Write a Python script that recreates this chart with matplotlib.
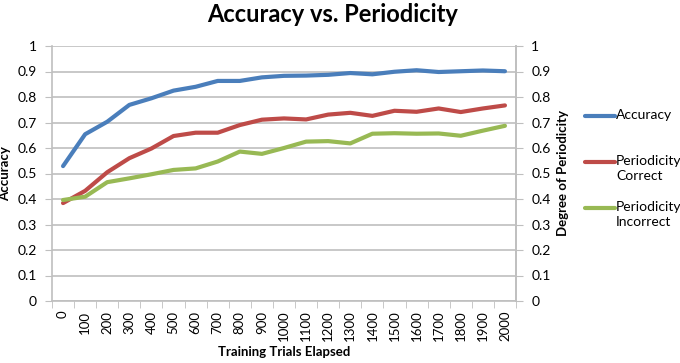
import matplotlib
matplotlib.use("Agg")
import matplotlib.pyplot as plt
from matplotlib.lines import Line2D
from matplotlib.ticker import FuncFormatter, FixedLocator

plt.rcParams['font.family'] = ['Lato', 'DejaVu Sans']

trials = [0, 100, 200, 300, 400, 500, 600, 700, 800, 900, 1000,
          1100, 1200, 1300, 1400, 1500, 1600, 1700, 1800, 1900, 2000]
accuracy = [0.529, 0.654, 0.703, 0.769, 0.795, 0.825, 0.840, 0.863, 0.863, 0.877, 0.883,
            0.884, 0.887, 0.894, 0.889, 0.899, 0.905, 0.898, 0.901, 0.904, 0.901]
period_correct = [0.384, 0.432, 0.505, 0.560, 0.598, 0.647, 0.660, 0.660, 0.690, 0.711, 0.716,
                  0.712, 0.731, 0.738, 0.726, 0.746, 0.742, 0.755, 0.741, 0.755, 0.767]
period_incorrect = [0.396, 0.409, 0.466, 0.481, 0.497, 0.514, 0.520, 0.547, 0.586, 0.577, 0.600,
                    0.625, 0.627, 0.618, 0.656, 0.658, 0.656, 0.657, 0.648, 0.668, 0.687]
y_ticks = [0, 0.1, 0.2, 0.3, 0.4, 0.5, 0.6, 0.7, 0.8, 0.9, 1]

series = [
    (accuracy, "Accuracy", "#4a7ebb"),
    (period_correct, "Periodicity\nCorrect", "#be4b48"),
    (period_incorrect, "Periodicity\nIncorrect", "#98b954"),
]

grid_c = "#bfbfbf"
fig = plt.figure(figsize=(6.8, 3.63), dpi=100)
ax = fig.add_axes([52 / 680, 62 / 363, 464 / 680, 255 / 363])
pos = list(range(len(trials)))

for vals, name, col in series:
    ax.plot(pos, vals, color=col, lw=3, label=name, solid_capstyle="round")

ax.set_xlim(-0.5, len(trials) - 0.5)
ax.set_ylim(0, 1)
ax.set_yticks(y_ticks)
fmt = FuncFormatter(lambda v, p: "%g" % round(v, 1))
ax.yaxis.set_major_formatter(fmt)
ax.grid(axis="y", color=grid_c, lw=1.2)
ax.set_axisbelow(True)

ax.set_xticks(pos)
ax.set_xticklabels([str(t) for t in trials], rotation=90, fontsize=9.5)
ax.tick_params(axis="x", which="major", length=0, pad=7)
ax.xaxis.set_minor_locator(FixedLocator([i - 0.5 for i in range(len(trials) + 1)]))
ax.tick_params(axis="x", which="minor", length=5, color=grid_c, direction="out")
ax.tick_params(axis="y", length=5, color=grid_c, labelsize=10, pad=6)

ax.spines["top"].set_visible(False)
for side in ["left", "right", "bottom"]:
    ax.spines[side].set_color(grid_c)
    ax.spines[side].set_linewidth(1.2)

ax2 = ax.twinx()
ax2.set_ylim(0, 1)
ax2.set_yticks(y_ticks)
ax2.yaxis.set_major_formatter(fmt)
ax2.tick_params(axis="y", length=5, color=grid_c, labelsize=10, pad=6)
for side in ["top", "left", "bottom"]:
    ax2.spines[side].set_visible(False)
ax2.spines["right"].set_color(grid_c)
ax2.spines["right"].set_linewidth(1.2)

# title is centred on the whole chart, not on the plot area
fig.text(333 / 680, 1 - 15 / 363, "Accuracy vs. Periodicity", fontsize=17,
         fontweight="bold", ha="center", va="center")
ax.set_xlabel("Training Trials Elapsed", fontsize=9.5, fontweight="bold", labelpad=3)
ax.set_ylabel("Accuracy", fontsize=9.5, fontweight="bold")
ax.yaxis.set_label_coords(-0.088, 0.5)
ax2.set_ylabel("Degree of Periodicity", fontsize=9.5, fontweight="bold")
ax2.yaxis.set_label_coords(1.088, 0.5)

# Excel-style legend: line sits level with the first text line
leg_y = [116, 162, 208]
for (vals, name, col), yy in zip(series, leg_y):
    yf = 1 - yy / 363
    fig.add_artist(Line2D([585 / 680, 615 / 680], [yf, yf], color=col, lw=3,
                          solid_capstyle="round"))
    fig.text(616 / 680, yf + 7 / 363, name, fontsize=10, va="top", ha="left",
             linespacing=1.25)

fig.savefig("out.png", dpi=100)
